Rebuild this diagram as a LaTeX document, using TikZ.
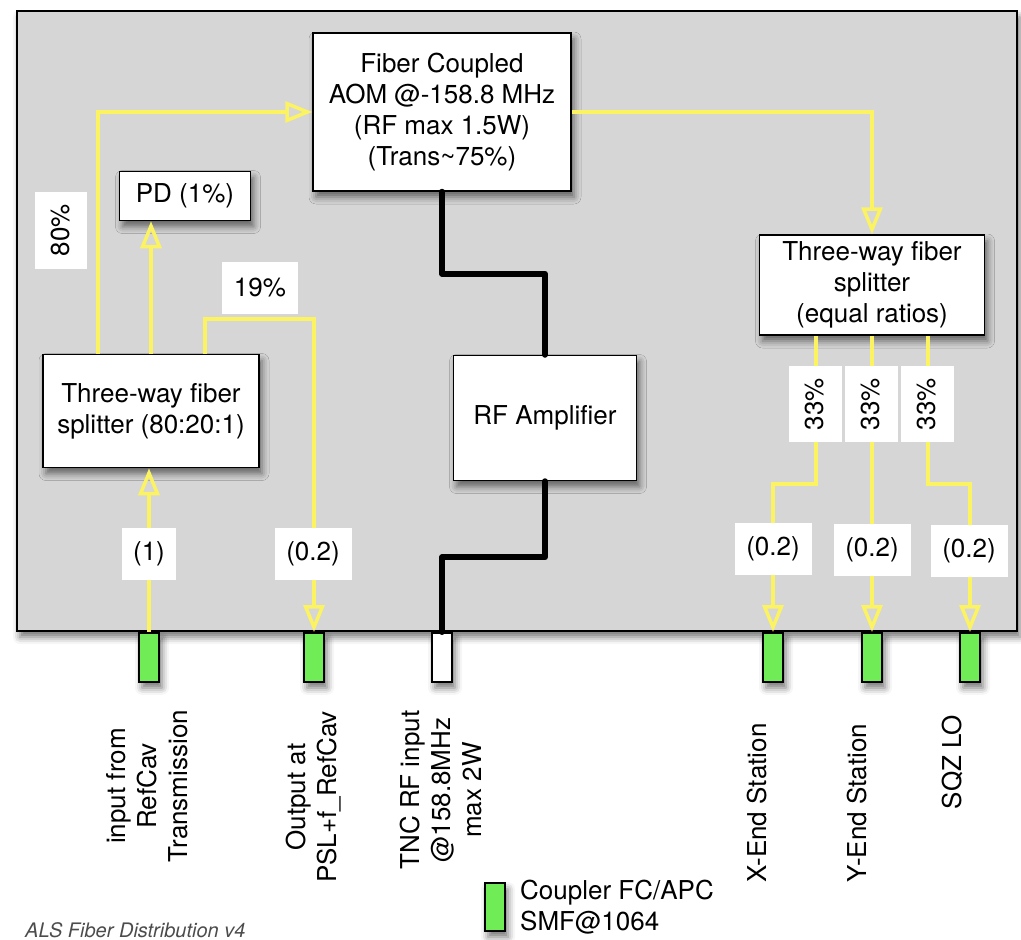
\documentclass[tikz,border=0pt]{standalone}
\usepackage{fontspec}
\setmainfont{TeX Gyre Heros}
\usetikzlibrary{arrows.meta,shadows.blur}
\definecolor{panelgray}{RGB}{214,214,214}
\definecolor{fiber}{RGB}{252,243,98}
\definecolor{couplergreen}{RGB}{112,236,86}
\tikzset{
  shade me/.style={blur shadow={shadow xshift=3pt,shadow yshift=-6pt,shadow blur radius=7pt,shadow opacity=55}},
  unit/.style={draw=black,line width=1.5pt,fill=white,inner sep=0pt,align=center,shade me},
  tag/.style={fill=white,inner sep=0pt,align=center,minimum width=77pt,minimum height=52pt},
  coupl/.style={draw=black,line width=1.5pt,fill=couplergreen,inner sep=0pt,minimum width=20pt,minimum height=49pt,anchor=north,shade me},
  fibline/.style={draw=fiber,line width=3.5pt},
  fibarrow/.style={fibline,-{Triangle[open,length=27pt,width=21pt]}},
  rfline/.style={line width=6pt,line join=round,line cap=round}
}
\begin{document}
\begin{tikzpicture}[x=1pt,y=-1pt,font=\fontsize{26}{31}\selectfont]
\useasboundingbox (0,0) rectangle (1021,940);
% panel
\draw[fill=panelgray,line width=1.5pt,shade me] (17,11) rectangle (1017,631);

% boxes
\node[unit,minimum width=258pt,minimum height=158pt] (aom) at (442,112) {Fiber Coupled\\AOM @-158.8 MHz\\(RF max 1.5W)\\(Trans\textasciitilde75\%)};
\node[unit,minimum width=131pt,minimum height=49pt] (pd) at (185,196) {PD (1\%)};
\node[unit,minimum width=216pt,minimum height=113pt] (spl) at (151,411) {Three-way fiber\\splitter (80:20:1)};
\node[unit,minimum width=183pt,minimum height=125pt] (rfamp) at (545,418) {RF Amplifier};
\node[unit,minimum width=225pt,minimum height=100pt] (spr) at (872,285) {Three-way fiber\\splitter\\(equal ratios)};

% couplers
\node[coupl] (cin) at (149,632) {};
\node[coupl] (cout) at (314,632) {};
\node[coupl,fill=white] (crf) at (442,632) {};
\node[coupl] (cx) at (773,632) {};
\node[coupl] (cy) at (872,632) {};
\node[coupl] (csqz) at (970,632) {};

% fibers
\draw[fibarrow] ([xshift=-53pt]spl.north) |- (aom.west);
\draw[fibarrow] (spl.north) -- (spl.north |- pd.south);
\draw[fibarrow] ([xshift=54pt]spl.north) -- ++(0,-35) -| (cout.north);
\draw[fibarrow] (cin.north) -- (cin.north |- spl.south);
\draw[fibarrow] (aom.east) -| (spr.north);
\draw[fibarrow] ([xshift=-56pt]spr.south) -- ++(0,148) -| (cx.north);
\draw[fibarrow] (spr.south) -- (cy.north);
\draw[fibarrow] ([xshift=56pt]spr.south) -- ++(0,148) -| (csqz.north);

% rf cable
\draw[rfline] (aom.south) -- ++(0,82) -| (rfamp.north);
\draw[rfline] (rfamp.south) -- ++(0,76) -| (crf.north);

% ratios
\node[tag,rotate=90] (l80) at (61,230) {80\%};
\node[tag,minimum width=76pt] (l19) at (260,288) {19\%};
\node[tag,minimum width=54pt] (l1) at (149,554) {(1)};
\node[tag] (l02) at (313,554) {(0.2)};
\node[tag,rotate=90,minimum width=76pt,minimum height=53pt] (l33x) at (815,404) {33\%};
\node[tag,rotate=90,minimum width=76pt,minimum height=53pt] (l33y) at (871,404) {33\%};
\node[tag,rotate=90,minimum width=76pt,minimum height=53pt] (l33s) at (927,404) {33\%};
\node[tag] (l02x) at (773,549) {(0.2)};
\node[tag] (l02y) at (872,550) {(0.2)};
\node[tag] (l02s) at (969,551) {(0.2)};

% port names
\node[rotate=90,align=center] (tin) at (147,786) {input from\\RefCav\\Transmission};
\node[rotate=90,align=center] (tout) at (314,797) {Output at\\PSL+f\_RefCav};
\node[rotate=90,align=center] (trf) at (441,790) {TNC RF input\\@158.8MHz\\max 2W};
\node[rotate=90] (tx) at (757,803) {X-End Station};
\node[rotate=90] (ty) at (857,803) {Y-End Station};
\node[rotate=90] (tsqz) at (952,762) {SQZ LO};

% legend
\node[coupl,anchor=center,minimum height=48pt] (key) at (495,907) {};
\node[anchor=west,align=left,inner sep=0pt] (keytext) at (520,907) {Coupler FC/APC\\SMF@1064};
\node[anchor=base west,inner sep=0pt,text=black!70,font=\fontsize{20}{24}\selectfont\itshape] (title) at (25,937) {ALS\ Fiber\ Distribution\ v4};
\end{tikzpicture}
\end{document}
